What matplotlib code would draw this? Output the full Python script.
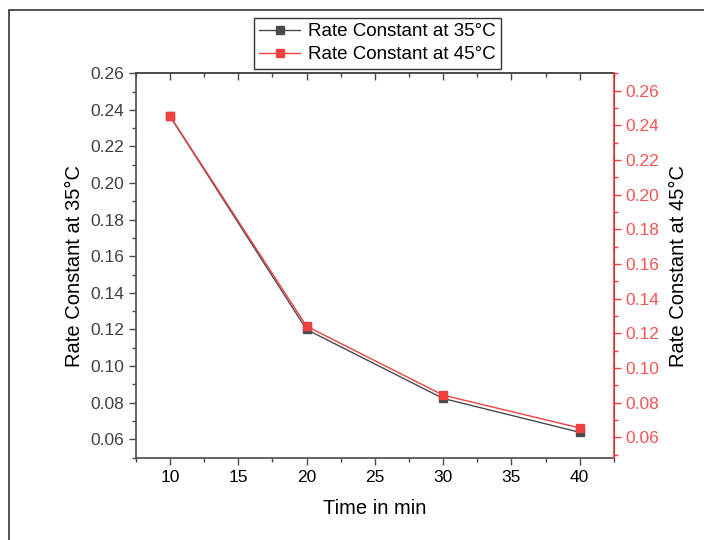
import matplotlib
matplotlib.use("Agg")
import matplotlib.pyplot as plt
from matplotlib.patches import Rectangle
from matplotlib.ticker import MultipleLocator, FormatStrFormatter

plt.rcParams["font.family"] = ["Liberation Sans", "DejaVu Sans"]

time_min = [10, 20, 30, 40]
rate_35 = [0.2366, 0.1200, 0.0823, 0.0638]
rate_45 = [0.2455, 0.1242, 0.0844, 0.0655]

DARK = "#4a4a4a"
RED = "#f04040"
RED_TXT = "#f45555"

fig = plt.figure(figsize=(7.04, 5.40), dpi=100)
ax = fig.add_axes([0.1928, 0.1513, 0.6792, 0.7130])
ax2 = ax.twinx()

ax.plot(time_min, rate_35, color=DARK, linewidth=1.0, marker="s",
        markersize=6, markerfacecolor=DARK, markeredgecolor=DARK,
        label="Rate Constant at 35°C")
ax2.plot(time_min, rate_45, color=RED, linewidth=1.0, marker="s",
         markersize=6, markerfacecolor=RED, markeredgecolor=RED,
         label="Rate Constant at 45°C")

ax.set_xlim(7.5, 42.5)
ax.set_ylim(0.0496, 0.26)
ax2.set_ylim(0.048, 0.27)

ax.xaxis.set_major_locator(MultipleLocator(5))
ax.xaxis.set_minor_locator(MultipleLocator(2.5))
ax.yaxis.set_major_locator(MultipleLocator(0.02))
ax.yaxis.set_minor_locator(MultipleLocator(0.01))
ax2.yaxis.set_major_locator(MultipleLocator(0.02))
ax2.yaxis.set_minor_locator(MultipleLocator(0.01))
ax.yaxis.set_major_formatter(FormatStrFormatter("%.2f"))
ax2.yaxis.set_major_formatter(FormatStrFormatter("%.2f"))

ax.tick_params(axis="x", which="both", direction="out", colors=DARK,
               labelcolor="black", labelsize=12.5)
ax.tick_params(axis="y", which="both", direction="out", colors=DARK,
               labelcolor="#404040", labelsize=12.5)
ax.tick_params(which="major", length=5, width=1)
ax.tick_params(which="minor", length=3, width=1)

# top axis: inward ticks, no labels
top = ax.secondary_xaxis("top")
top.xaxis.set_major_locator(MultipleLocator(5))
top.xaxis.set_minor_locator(MultipleLocator(2.5))
top.tick_params(which="both", direction="in", colors=DARK, labeltop=False)
top.tick_params(which="major", length=5, width=1)
top.tick_params(which="minor", length=3, width=1)
top.spines["top"].set_color(DARK)
top.spines["top"].set_linewidth(1.2)

ax2.tick_params(axis="y", which="both", direction="out", colors=RED,
                labelcolor=RED_TXT, labelsize=12.5)
ax2.tick_params(which="major", length=5, width=1)
ax2.tick_params(which="minor", length=3, width=1)

for side in ["left", "bottom", "top"]:
    ax.spines[side].set_color(DARK)
    ax.spines[side].set_linewidth(1.2)
ax2.spines["right"].set_color(RED)
ax2.spines["right"].set_linewidth(1.2)
ax2.spines["left"].set_visible(False)
ax2.spines["top"].set_visible(False)
ax2.spines["bottom"].set_visible(False)

ax.set_xlabel("Time in min", fontsize=14.5, labelpad=10)
ax.set_ylabel("Rate Constant at 35°C", fontsize=14.5, labelpad=4)
ax2.set_ylabel("Rate Constant at 45°C", fontsize=14.5, labelpad=7)

handles = ax.get_lines() + ax2.get_lines()
leg = fig.legend(handles, [h.get_label() for h in handles],
                 loc="center", bbox_to_anchor=(0.536, 0.920),
                 fontsize=13.5, frameon=True, fancybox=False,
                 edgecolor="black", handlelength=2.2, handletextpad=0.4,
                 borderpad=0.3, labelspacing=0.3, borderaxespad=0)
leg.get_frame().set_linewidth(1.0)

# outer frame around the figure
fig.patches.append(Rectangle((9 / 704, -0.1), 1.2, 1 - 10 / 540 + 0.1,
                             transform=fig.transFigure, fill=False,
                             edgecolor="#333333", linewidth=1.2))

fig.savefig("out.png", dpi=100)
